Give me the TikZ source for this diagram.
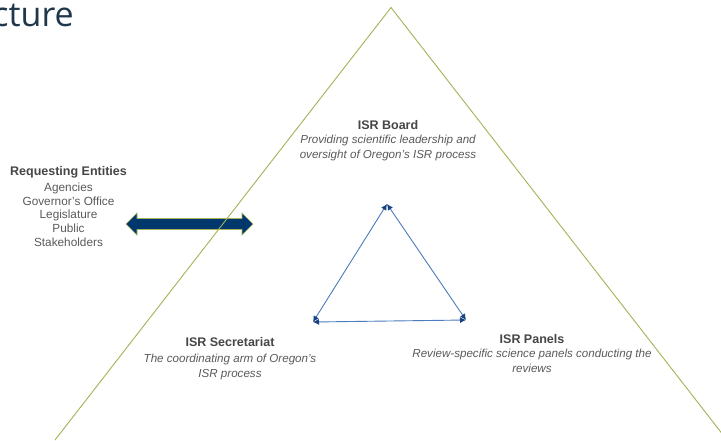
\documentclass[tikz,border=0pt]{standalone}
\usepackage{fontspec}
\setmainfont{Liberation Sans}
\newfontfamily\headfont{Open Sans}
\usetikzlibrary{arrows.meta,calc}
\definecolor{olive}{RGB}{165,178,85}
\definecolor{navy}{RGB}{0,56,110}
\definecolor{linkblue}{RGB}{74,124,187}
\definecolor{tipblue}{RGB}{22,66,130}
\definecolor{txtgray}{RGB}{90,90,90}
\definecolor{hdgray}{RGB}{70,70,70}
\definecolor{headcol}{RGB}{31,55,75}
\tikzset{
  ttl/.style={font=\fontsize{12.5}{14}\selectfont\bfseries, text=hdgray, inner sep=0pt},
  desc/.style={font=\fontsize{11.6}{15.5}\selectfont\itshape, text=txtgray, align=center, inner sep=0pt},
  entity/.style={font=\fontsize{11.8}{13.8}\selectfont, text=txtgray, align=center, inner sep=0pt},
  link/.style={draw=linkblue, line width=0.9pt, {Latex[length=6pt,width=6pt,color=tipblue]}-{Latex[length=6pt,width=6pt,color=tipblue]}},
  frame/.style={draw=olive, line width=0.9pt}
}
\begin{document}
\begin{tikzpicture}[x=1pt,y=-1pt]
\clip (0,0) rectangle (721,440);
\fill[white] (0,0) rectangle (721,440);
% title fragment
\node[anchor=base east, inner sep=0pt, font=\fontsize{34}{38}\selectfont\headfont, text=headcol] (head) at (74,26) {cture};
% requesting entities
\node[ttl] (req) at (68.5,172) {Requesting Entities};
\node[entity, anchor=north] (reqlist) at (68.5,182.5) {Agencies\\Governor's Office\\Legislature\\Public\\Stakeholders};
% double block arrow
\coordinate (al) at (126,224);
\coordinate (ar) at (253,224);
\fill[navy, draw=olive, line width=0.6pt]
  (al) -- ++(11,-11) -- ++(0,5.5) -- ($(ar)+(-11,-5.5)$) -- ++(0,-5.5) -- (ar) -- ++(-11,11) -- ++(0,-5.5) -- ($(al)+(11,5.5)$) -- ++(0,5.5) -- cycle;
% big triangle
\coordinate (apex) at (391,7.5);
\coordinate (bl) at (55,440);
\coordinate (br) at (727,440);
\draw[frame] (bl) -- (apex) -- (br);
% inner triangle
\coordinate (vt) at (387,204);
\coordinate (vl) at (313,322);
\coordinate (vr) at (466,320);
\draw[link] (vl) -- (vt);
\draw[link] (vt) -- (vr);
\draw[link] (vr) -- (vl);
% labels
\node[ttl] (board) at (388,125) {ISR Board};
\node[desc, anchor=north] (boardd) at (388,134.5) {Providing scientific leadership and\\oversight of Oregon's ISR process};
\node[ttl] (sec) at (230,342) {ISR Secretariat};
\node[desc, anchor=north] (secd) at (230,353.5) {The coordinating arm of Oregon's\\ISR process};
\node[ttl] (pan) at (532,339) {ISR Panels};
\node[desc, anchor=north] (pand) at (532,348.5) {Review-specific science panels conducting the\\reviews};
\end{tikzpicture}
\end{document}
